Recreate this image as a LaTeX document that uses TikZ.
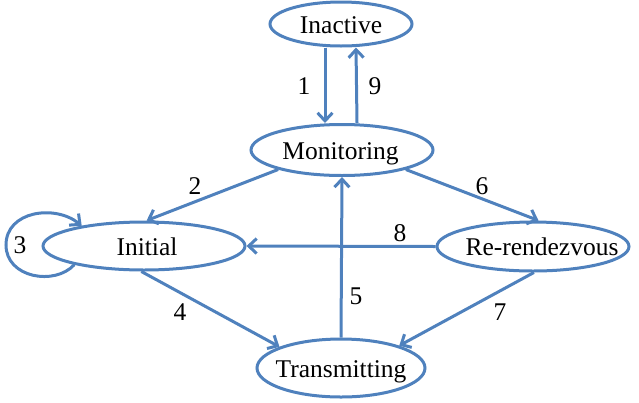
\documentclass[tikz,border=0pt]{standalone}
\usepackage{fontspec}
\setmainfont{Liberation Serif}
\usetikzlibrary{shapes.geometric,arrows.meta}
\definecolor{lineblue}{RGB}{79,129,189}
\tikzset{
  state/.style={ellipse, draw=lineblue, line width=3pt, inner sep=0pt, text height=18pt, text depth=0pt, font=\fontsize{25.5}{30}\selectfont},
  conn/.style={draw=lineblue, line width=3pt, -{Straight Barb[length=8pt,width=15pt,line width=3pt]}},
  lbl/.style={font=\fontsize{25.5}{30}\selectfont, inner sep=0pt}
}
\begin{document}
\begin{tikzpicture}[x=1pt,y=-1pt]
\useasboundingbox (0,0) rectangle (639,402);
\node[state, minimum width=142pt, minimum height=44pt] (inactive) at (341,24) {\makebox[0pt]{Inactive}};
\node[state, minimum width=182pt, minimum height=51pt] (monitoring) at (342,150) {\makebox[0pt]{Monitoring\hspace{3pt}}};
\node[state, minimum width=202pt, minimum height=48pt] (initial) at (144,246) {\makebox[0pt]{\hspace{6pt}Initial}};
\node[state, minimum width=192pt, minimum height=49pt] (rerend) at (533,246.5) {\makebox[0pt]{\hspace{18pt}Re-rendezvous}};
\node[state, minimum width=168pt, minimum height=58pt] (transmit) at (341,368) {\makebox[0pt]{Transmitting}};

\draw[conn] ([xshift=-16pt]inactive.south) -- ([xshift=-17pt]monitoring.north);
\draw[conn] ([xshift=15pt]monitoring.north) -- ([xshift=15pt]inactive.south);
\draw[conn] (monitoring.-163) -- (initial.84);
\draw[conn] (monitoring.-17) -- (rerend.78);
\draw[conn] (rerend.west) -- (initial.east);
\draw[conn] (transmit.north) -- (monitoring.south);
\draw[conn] (initial.-96) -- (transmit.161);
\draw[conn] (rerend.-88) -- (transmit.21);
\coordinate (loopleft) at (6,245);
\draw[conn] (initial.-165) .. controls (55,286) and (6,278) .. (loopleft)
  .. controls (6,211) and (55,204) .. (initial.162);

\node[lbl] (l1) at (304,86) {1};
\node[lbl] (l9) at (375,86) {9};
\node[lbl] (l2) at (195,186) {2};
\node[lbl] (l6) at (482,186) {6};
\node[lbl] (l8) at (400,233) {8};
\node[lbl] (l5) at (356,296) {5};
\node[lbl] (l4) at (180,312) {4};
\node[lbl] (l7) at (500,312) {7};
\node[lbl] (l3) at (20,245) {3};
\end{tikzpicture}
\end{document}
